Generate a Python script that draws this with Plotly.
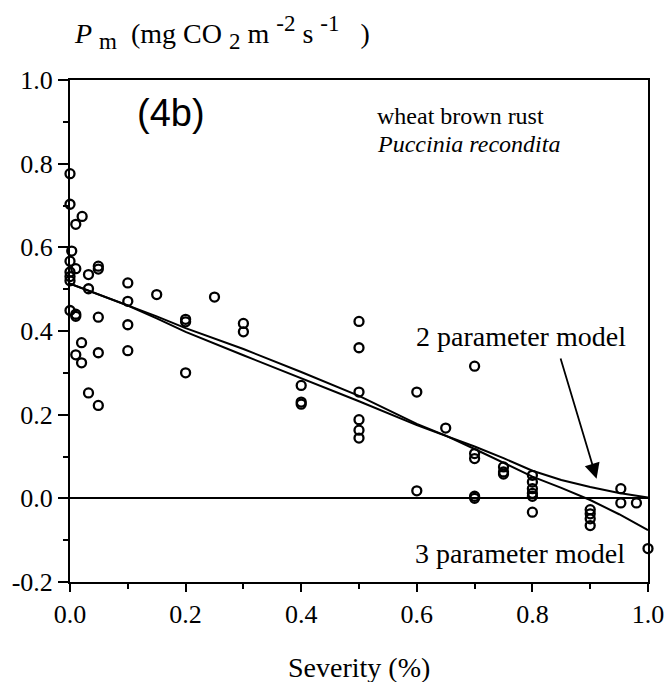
import plotly.graph_objects as go

# Observed data: severity (fraction) and Pm values
severity = [0, 0, 0.003, 0, 0, 0, 0, 0,
            0.010, 0.010, 0.010, 0.010, 0.010,
            0.021, 0.020, 0.020,
            0.032, 0.032, 0.032,
            0.049, 0.049, 0.049, 0.049, 0.049,
            0.1, 0.1, 0.1, 0.1,
            0.15,
            0.2, 0.2, 0.2,
            0.25,
            0.3, 0.3,
            0.4, 0.4, 0.4,
            0.5, 0.5, 0.5, 0.5, 0.5, 0.5,
            0.6, 0.6,
            0.65,
            0.7, 0.7, 0.7, 0.7, 0.7,
            0.75, 0.75, 0.75,
            0.8, 0.8, 0.8, 0.8, 0.8, 0.8,
            0.9, 0.9, 0.9, 0.9,
            0.953, 0.953,
            0.98,
            1.0]
pm = [0.776, 0.703, 0.591, 0.567, 0.541, 0.530, 0.520, 0.449,
      0.655, 0.549, 0.440, 0.435, 0.343,
      0.674, 0.372, 0.324,
      0.535, 0.501, 0.252,
      0.555, 0.548, 0.433, 0.348, 0.222,
      0.515, 0.471, 0.415, 0.353,
      0.487,
      0.428, 0.422, 0.300,
      0.481,
      0.418, 0.398,
      0.270, 0.230, 0.225,
      0.423, 0.360, 0.254, 0.188, 0.163, 0.144,
      0.254, 0.018,
      0.168,
      0.316, 0.107, 0.095, 0.005, 0.0,
      0.075, 0.063, 0.058,
      0.055, 0.039, 0.023, 0.012, 0.005, -0.033,
      -0.027, -0.037, -0.049, -0.065,
      0.023, -0.011,
      -0.011,
      -0.120]

# Fitted model curves
model_x = [0, 0.05, 0.1, 0.15, 0.2, 0.3, 0.4, 0.5, 0.6, 0.65, 0.7, 0.75, 0.8, 0.85, 0.9, 0.95, 1.0]
model2_y = [0.513, 0.487, 0.461, 0.430, 0.398, 0.342, 0.287, 0.232, 0.175, 0.150, 0.124, 0.096, 0.066, 0.044, 0.027, 0.013, 0.002]
model3_y = [0.513, 0.487, 0.461, 0.435, 0.407, 0.357, 0.302, 0.245, 0.178, 0.150, 0.118, 0.085, 0.052, 0.025, -0.004, -0.038, -0.076]

x_ticks = [0.0, 0.2, 0.4, 0.6, 0.8, 1.0]
x_ticktext = ["0.0", "0.2", "0.4", "0.6", "0.8", "1.0"]
y_ticks = [-0.2, 0.0, 0.2, 0.4, 0.6, 0.8, 1.0]
y_ticktext = ["-0.2", "0.0", "0.2", "0.4", "0.6", "0.8", "1.0"]

SERIF = "Liberation Serif"

fig = go.Figure()
fig.add_trace(go.Scatter(x=model_x, y=model2_y, mode="lines",
                         line=dict(color="black", width=2), cliponaxis=False,
                         showlegend=False, name="2 parameter model"))
fig.add_trace(go.Scatter(x=model_x, y=model3_y, mode="lines",
                         line=dict(color="black", width=2), cliponaxis=False,
                         showlegend=False, name="3 parameter model"))
fig.add_trace(go.Scatter(x=severity, y=pm, mode="markers",
                         marker=dict(symbol="circle-open", size=9, color="black",
                                     line=dict(width=2.3, color="black")),
                         cliponaxis=False, showlegend=False, name="observed"))

fig.update_layout(
    width=667, height=682,
    margin=dict(l=70, r=19, t=80, b=100),
    paper_bgcolor="white", plot_bgcolor="white",
    font=dict(family=SERIF, color="black", size=26),
    xaxis=dict(range=[0, 1], tickvals=x_ticks, ticktext=x_ticktext, automargin=False,
               showgrid=False, zeroline=False,
               showline=True, linecolor="black", linewidth=2, mirror=True,
               ticks="outside", ticklen=8, tickwidth=2, tickcolor="black",
               minor=dict(dtick=0.1, tick0=0, ticks="outside", ticklen=5, tickwidth=2, tickcolor="black"),
               tickfont=dict(family=SERIF, size=26)),
    yaxis=dict(range=[-0.2, 1.0], tickvals=y_ticks, ticktext=y_ticktext, automargin=False,
               showgrid=False, zeroline=True, zerolinecolor="black", zerolinewidth=1.5,
               showline=True, linecolor="black", linewidth=2, mirror=True,
               ticks="outside", ticklen=10, tickwidth=2, tickcolor="black",
               minor=dict(dtick=0.1, tick0=0, ticks="outside", ticklen=5, tickwidth=2, tickcolor="black"),
               tickfont=dict(family=SERIF, size=26)),
)

big = "<span style='font-size:23px'>{}</span>"
ytitle = ("<i>P</i> <sub>" + big.format("m") + "</sub>  (mg CO <sub>" + big.format("2") +
          "</sub> m <sup>" + big.format("-2") + "</sup> s <sup>" + big.format("-1") + "</sup>   )")

ann = [
    dict(x=0.003, y=1.0, xref="paper", yref="paper", xanchor="left", yanchor="bottom",
         yshift=24, showarrow=False, text=ytitle,
         font=dict(family=SERIF, size=28)),
    dict(x=0.175, y=0.92, xref="x", yref="y", showarrow=False, text="(4b)",
         font=dict(family="Liberation Sans", size=38)),
    dict(x=0.528, y=0.913, xref="x", yref="y", xanchor="left", showarrow=False,
         text="wheat brown rust", font=dict(family=SERIF, size=24)),
    dict(x=0.528, y=0.846, xref="x", yref="y", xanchor="left", showarrow=False,
         text="<i>Puccinia recondita</i>", font=dict(family=SERIF, size=24)),
    dict(x=0.78, y=0.387, xref="x", yref="y", showarrow=False,
         text="2 parameter model", font=dict(family=SERIF, size=28)),
    dict(x=0.779, y=-0.131, xref="x", yref="y", showarrow=False,
         text="3 parameter model", font=dict(family=SERIF, size=28)),
    dict(x=0.911, y=0.047, ax=0.848, ay=0.338, xref="x", yref="y", axref="x", ayref="y",
         showarrow=True, arrowhead=2, arrowsize=1.7, arrowwidth=1.8, arrowcolor="black",
         text=""),
    dict(x=0.5, y=-0.171, xref="paper", yref="paper", yanchor="middle", showarrow=False,
         text="Severity (%)", font=dict(family=SERIF, size=28)),
]
fig.update_layout(annotations=ann)

fig.write_html("out.html")
